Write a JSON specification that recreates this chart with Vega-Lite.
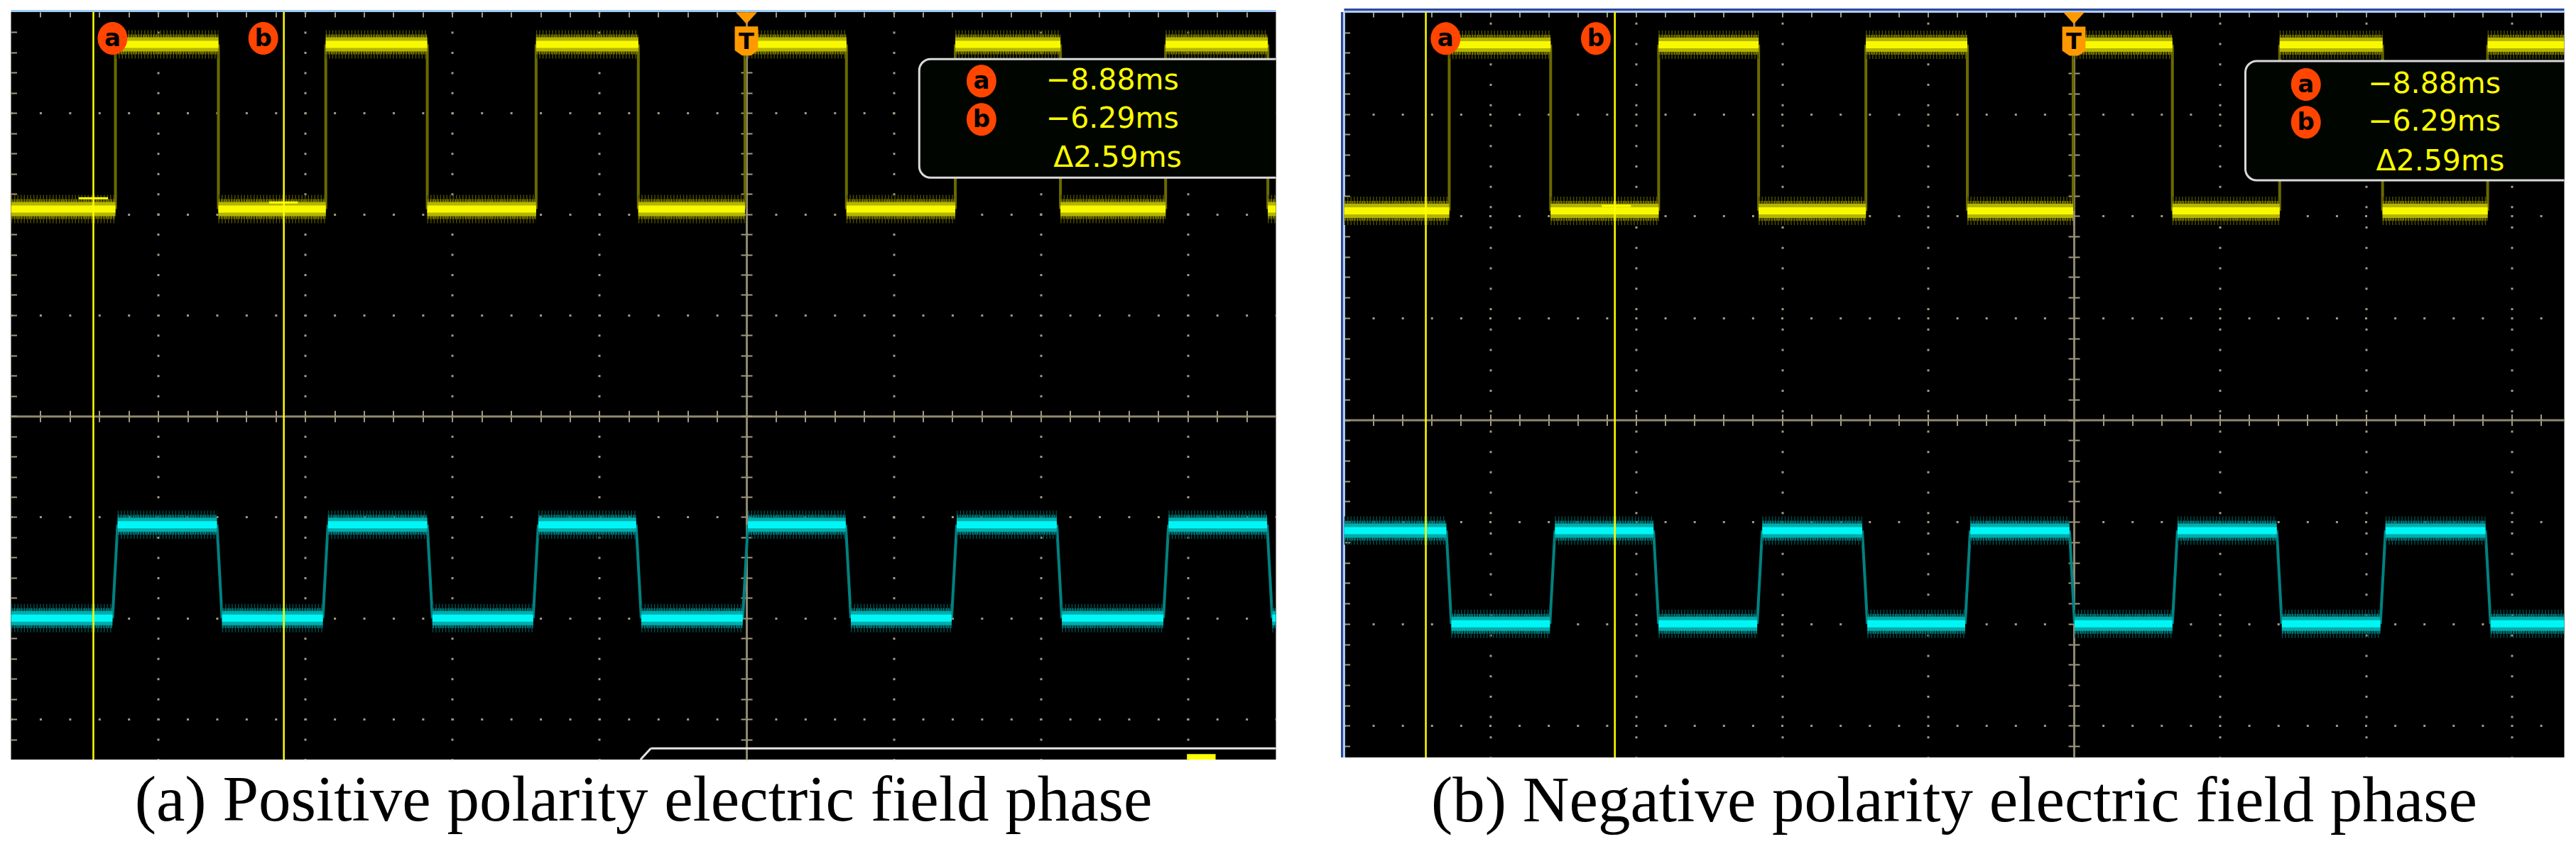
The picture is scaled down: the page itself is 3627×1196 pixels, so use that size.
{
  "$schema": "https://vega.github.io/schema/vega-lite/v6.json",
  "background": "#ffffff",
  "padding": {"left": 13.5, "top": 12, "right": 5, "bottom": 5},
  "bounds": "flush",
  "spacing": 96,
  "config": {"view": {"fill": "#000000", "stroke": null}, "axis": {"zindex": 0, "minExtent": 0, "maxExtent": 0, "labelPadding": 0, "titlePadding": 0}},
  "datasets": {
    "z": [{"z": 0}],
    "segA": [
      {"ch": "CH1", "t0": -10, "t1": -8.58, "v": 2.05, "vn": 3.68, "te": -8.58},
      {"ch": "CH1", "t0": -8.58, "t1": -7.18, "v": 3.68, "vn": 2.05, "te": -7.18},
      {"ch": "CH1", "t0": -7.18, "t1": -5.72, "v": 2.05, "vn": 3.68, "te": -5.72},
      {"ch": "CH1", "t0": -5.72, "t1": -4.34, "v": 3.68, "vn": 2.05, "te": -4.34},
      {"ch": "CH1", "t0": -4.34, "t1": -2.86, "v": 2.05, "vn": 3.68, "te": -2.86},
      {"ch": "CH1", "t0": -2.86, "t1": -1.47, "v": 3.68, "vn": 2.05, "te": -1.47},
      {"ch": "CH1", "t0": -1.47, "t1": -0.02, "v": 2.05, "vn": 3.68, "te": -0.02},
      {"ch": "CH1", "t0": -0.02, "t1": 1.36, "v": 3.68, "vn": 2.05, "te": 1.36},
      {"ch": "CH1", "t0": 1.36, "t1": 2.84, "v": 2.05, "vn": 3.68, "te": 2.84},
      {"ch": "CH1", "t0": 2.84, "t1": 4.27, "v": 3.68, "vn": 2.05, "te": 4.27},
      {"ch": "CH1", "t0": 4.27, "t1": 5.7, "v": 2.05, "vn": 3.68, "te": 5.7},
      {"ch": "CH1", "t0": 5.7, "t1": 7.09, "v": 3.68, "vn": 2.05, "te": 7.09},
      {"ch": "CH1", "t0": 7.09, "t1": 7.2, "v": 2.05, "vn": 2.05, "te": 7.2},
      {"ch": "CH2", "t0": -10, "t1": -8.62, "v": -2.0, "vn": -1.075, "te": -8.55},
      {"ch": "CH2", "t0": -8.55, "t1": -7.2, "v": -1.075, "vn": -2.0, "te": -7.13},
      {"ch": "CH2", "t0": -7.13, "t1": -5.76, "v": -2.0, "vn": -1.075, "te": -5.69},
      {"ch": "CH2", "t0": -5.69, "t1": -4.34, "v": -1.075, "vn": -2.0, "te": -4.27},
      {"ch": "CH2", "t0": -4.27, "t1": -2.9, "v": -2.0, "vn": -1.075, "te": -2.83},
      {"ch": "CH2", "t0": -2.83, "t1": -1.5, "v": -1.075, "vn": -2.0, "te": -1.43},
      {"ch": "CH2", "t0": -1.43, "t1": -0.05, "v": -2.0, "vn": -1.075, "te": 0.02},
      {"ch": "CH2", "t0": 0.02, "t1": 1.35, "v": -1.075, "vn": -2.0, "te": 1.42},
      {"ch": "CH2", "t0": 1.42, "t1": 2.79, "v": -2.0, "vn": -1.075, "te": 2.86},
      {"ch": "CH2", "t0": 2.86, "t1": 4.22, "v": -1.075, "vn": -2.0, "te": 4.29},
      {"ch": "CH2", "t0": 4.29, "t1": 5.67, "v": -2.0, "vn": -1.075, "te": 5.74},
      {"ch": "CH2", "t0": 5.74, "t1": 7.08, "v": -1.075, "vn": -2.0, "te": 7.15},
      {"ch": "CH2", "t0": 7.15, "t1": 7.2, "v": -2.0, "vn": -2.0, "te": 7.2}
    ],
    "segB": [
      {"ch": "CH1", "t0": -10, "t1": -8.56, "v": 2.05, "vn": 3.68, "te": -8.56},
      {"ch": "CH1", "t0": -8.56, "t1": -7.17, "v": 3.68, "vn": 2.05, "te": -7.17},
      {"ch": "CH1", "t0": -7.17, "t1": -5.69, "v": 2.05, "vn": 3.68, "te": -5.69},
      {"ch": "CH1", "t0": -5.69, "t1": -4.32, "v": 3.68, "vn": 2.05, "te": -4.32},
      {"ch": "CH1", "t0": -4.32, "t1": -2.85, "v": 2.05, "vn": 3.68, "te": -2.85},
      {"ch": "CH1", "t0": -2.85, "t1": -1.46, "v": 3.68, "vn": 2.05, "te": -1.46},
      {"ch": "CH1", "t0": -1.46, "t1": -0.01, "v": 2.05, "vn": 3.68, "te": -0.01},
      {"ch": "CH1", "t0": -0.01, "t1": 1.35, "v": 3.68, "vn": 2.05, "te": 1.35},
      {"ch": "CH1", "t0": 1.35, "t1": 2.82, "v": 2.05, "vn": 3.68, "te": 2.82},
      {"ch": "CH1", "t0": 2.82, "t1": 4.23, "v": 3.68, "vn": 2.05, "te": 4.23},
      {"ch": "CH1", "t0": 4.23, "t1": 5.67, "v": 2.05, "vn": 3.68, "te": 5.67},
      {"ch": "CH1", "t0": 5.67, "t1": 6.72, "v": 3.68, "vn": 3.68, "te": 6.72},
      {"ch": "CH2", "t0": -10, "t1": -8.6, "v": -1.085, "vn": -2.0, "te": -8.53},
      {"ch": "CH2", "t0": -8.53, "t1": -7.18, "v": -2.0, "vn": -1.085, "te": -7.11},
      {"ch": "CH2", "t0": -7.11, "t1": -5.76, "v": -1.085, "vn": -2.0, "te": -5.69},
      {"ch": "CH2", "t0": -5.69, "t1": -4.34, "v": -2.0, "vn": -1.085, "te": -4.27},
      {"ch": "CH2", "t0": -4.27, "t1": -2.9, "v": -1.085, "vn": -2.0, "te": -2.83},
      {"ch": "CH2", "t0": -2.83, "t1": -1.49, "v": -2.0, "vn": -1.085, "te": -1.42},
      {"ch": "CH2", "t0": -1.42, "t1": -0.06, "v": -1.085, "vn": -2.0, "te": 0.01},
      {"ch": "CH2", "t0": 0.01, "t1": 1.35, "v": -2.0, "vn": -1.085, "te": 1.42},
      {"ch": "CH2", "t0": 1.42, "t1": 2.78, "v": -1.085, "vn": -2.0, "te": 2.85},
      {"ch": "CH2", "t0": 2.85, "t1": 4.2, "v": -2.0, "vn": -1.085, "te": 4.27},
      {"ch": "CH2", "t0": 4.27, "t1": 5.64, "v": -1.085, "vn": -2.0, "te": 5.71},
      {"ch": "CH2", "t0": 5.71, "t1": 6.72, "v": -2.0, "vn": -2.0, "te": 6.72}
    ],
    "markA": [
      {"x": -8.62, "y": 3.74, "t": "a"},
      {"x": -6.57, "y": 3.74, "t": "b"},
      {"x": 3.196, "y": 3.317, "t": "a"},
      {"x": 3.196, "y": 2.937, "t": "b"}
    ],
    "markB": [
      {"x": -8.61, "y": 3.74, "t": "a"},
      {"x": -6.55, "y": 3.74, "t": "b"},
      {"x": 3.18, "y": 3.29, "t": "a"},
      {"x": 3.18, "y": 2.92, "t": "b"}
    ],
    "readA": [
      {"x": 5.88, "y": 3.317, "t": "−8.88ms"},
      {"x": 5.88, "y": 2.937, "t": "−6.29ms"},
      {"x": 5.92, "y": 2.551, "t": "Δ2.59ms"}
    ],
    "readB": [
      {"x": 5.85, "y": 3.29, "t": "−8.88ms"},
      {"x": 5.85, "y": 2.92, "t": "−6.29ms"},
      {"x": 5.9, "y": 2.53, "t": "Δ2.59ms"}
    ],
    "cur": [{"x": -8.88}, {"x": -6.29}],
    "lvlA": [{"x0": -9.08, "x1": -8.68, "y": 2.157}, {"x0": -6.49, "x1": -6.1, "y": 2.115}],
    "lvlB": [{"x0": -6.47, "x1": -6.07, "y": 2.1}],
    "boxA": [{"x0": 2.35, "x1": 9, "y0": 3.535, "y1": 2.36}],
    "boxB": [{"x0": 2.35, "x1": 9, "y0": 3.52, "y1": 2.35}],
    "trig": [{"x": 0, "y1": 3.94, "y2": 3.714}],
    "botA": [
      {"x0": -1.3, "x1": 9, "y0": -3.29, "y1": -3.29},
      {"x0": -1.44, "x1": -1.3, "y0": -3.4, "y1": -3.29}
    ],
    "ylwA": [{"x0": 5.99, "x1": 6.38, "y0": -3.345, "y1": -3.4}]
  },
  "hconcat": [
    {
      "width": 1781,
      "height": 1053,
      "title": {"text": "(a) Positive polarity electric field phase", "orient": "bottom", "anchor": "middle", "baseline": "alphabetic", "offset": 85, "font": "Liberation Serif", "fontSize": 91, "fontWeight": "normal", "color": "#000000"},
      "resolve": {"axis": {"x": "independent", "y": "independent"}, "scale": {"color": "independent"}},
      "layer": [
        {
          "data": {"name": "z"},
          "mark": {"type": "point", "opacity": 0},
          "encoding": {
            "x": {"field": "z", "type": "quantitative", "scale": {"domain": [-10, 7.2], "nice": false, "zero": false},
              "axis": {"orient": "bottom", "values": [-8, -6, -4, -2, 2, 4, 6], "grid": true, "gridColor": "#a39a80", "gridWidth": 3, "gridOpacity": 1, "gridDash": [3, 25.46], "gridDashOffset": 1.5, "domain": false, "ticks": false, "labels": false, "title": null, "zindex": 0}},
            "y": {"field": "z", "type": "quantitative", "scale": {"domain": [-3.4, 4], "nice": false, "zero": false},
              "axis": {"orient": "left", "values": [-3, -2, -1, 1, 2, 3], "grid": true, "gridColor": "#a39a80", "gridWidth": 3, "gridOpacity": 1, "gridDash": [3, 38.42], "gridDashOffset": 1.5, "domain": false, "ticks": false, "labels": false, "title": null, "zindex": 0}}
          }
        },
        {
          "data": {"name": "z"},
          "mark": {"type": "point", "opacity": 0},
          "encoding": {
            "x": {"field": "z", "type": "quantitative", "scale": {"domain": [-10, 7.2], "nice": false, "zero": false},
              "axis": {"orient": "top", "values": [-9.6,-9.2,-8.8,-8.4,-8,-7.6,-7.2,-6.8,-6.4,-6,-5.6,-5.2,-4.8,-4.4,-4,-3.6,-3.2,-2.8,-2.4,-2,-1.6,-1.2,-0.8,-0.4,0,0.4,0.8,1.2,1.6,2,2.4,2.8,3.2,3.6,4,4.4,4.8,5.2,5.6,6,6.4,6.8], "grid": false, "domain": false, "ticks": true, "tickSize": -7, "tickWidth": 2, "tickColor": "#a39a80", "labels": false, "title": null, "zindex": 0}},
            "y": {"field": "z", "type": "quantitative", "scale": {"domain": [-3.4, 4], "nice": false, "zero": false},
              "axis": {"orient": "left", "values": [-3.2,-3,-2.8,-2.6,-2.4,-2.2,-2,-1.8,-1.6,-1.4,-1.2,-1,-0.8,-0.6,-0.4,-0.2,0,0.2,0.4,0.6,0.8,1,1.2,1.4,1.6,1.8,2,2.2,2.4,2.6,2.8,3,3.2,3.4,3.6,3.8], "grid": false, "domain": false, "ticks": true, "tickSize": -8, "tickWidth": 2, "tickColor": "#a39a80", "labels": false, "title": null, "zindex": 0}}
          }
        },
        {
          "data": {"name": "z"},
          "mark": {"type": "point", "opacity": 0},
          "encoding": {
            "x": {"field": "z", "type": "quantitative", "scale": {"domain": [-10, 7.2], "nice": false, "zero": false},
              "axis": {"orient": "bottom", "offset": -483.8, "values": [-9.6,-9.2,-8.8,-8.4,-8,-7.6,-7.2,-6.8,-6.4,-6,-5.6,-5.2,-4.8,-4.4,-4,-3.6,-3.2,-2.8,-2.4,-2,-1.6,-1.2,-0.8,-0.4,0,0.4,0.8,1.2,1.6,2,2.4,2.8,3.2,3.6,4,4.4,4.8,5.2,5.6,6,6.4,6.8], "grid": false, "domain": true, "domainColor": "#8f8770", "domainWidth": 3, "ticks": true, "tickSize": 8, "tickWidth": 2, "tickColor": "#a39a80", "labels": false, "title": null, "zindex": 0}},
            "y": {"field": "z", "type": "quantitative", "scale": {"domain": [-3.4, 4], "nice": false, "zero": false},
              "axis": {"orient": "left", "offset": -1035.5, "values": [-3.2,-3,-2.8,-2.6,-2.4,-2.2,-2,-1.8,-1.6,-1.4,-1.2,-1,-0.8,-0.6,-0.4,-0.2,0,0.2,0.4,0.6,0.8,1,1.2,1.4,1.6,1.8,2,2.2,2.4,2.6,2.8,3,3.2,3.4,3.6,3.8], "grid": false, "domain": true, "domainColor": "#8f8770", "domainWidth": 3, "ticks": true, "tickSize": 8, "tickWidth": 2, "tickColor": "#a39a80", "labels": false, "title": null, "zindex": 0}}
          }
        },
        {
          "data": {"name": "z"},
          "mark": {"type": "point", "opacity": 0},
          "encoding": {
            "x": {"field": "z", "type": "quantitative", "scale": {"domain": [-10, 7.2], "nice": false, "zero": false},
              "axis": {"orient": "top", "offset": -569.2, "values": [-9.6,-9.2,-8.8,-8.4,-8,-7.6,-7.2,-6.8,-6.4,-6,-5.6,-5.2,-4.8,-4.4,-4,-3.6,-3.2,-2.8,-2.4,-2,-1.6,-1.2,-0.8,-0.4,0,0.4,0.8,1.2,1.6,2,2.4,2.8,3.2,3.6,4,4.4,4.8,5.2,5.6,6,6.4,6.8], "grid": false, "domain": false, "ticks": true, "tickSize": 8, "tickWidth": 2, "tickColor": "#a39a80", "labels": false, "title": null, "zindex": 0}},
            "y": {"field": "z", "type": "quantitative", "scale": {"domain": [-3.4, 4], "nice": false, "zero": false},
              "axis": {"orient": "right", "offset": -745.5, "values": [-3.2,-3,-2.8,-2.6,-2.4,-2.2,-2,-1.8,-1.6,-1.4,-1.2,-1,-0.8,-0.6,-0.4,-0.2,0,0.2,0.4,0.6,0.8,1,1.2,1.4,1.6,1.8,2,2.2,2.4,2.6,2.8,3,3.2,3.4,3.6,3.8], "grid": false, "domain": false, "ticks": true, "tickSize": 8, "tickWidth": 2, "tickColor": "#a39a80", "labels": false, "title": null, "zindex": 0}}
          }
        },
        {
          "data": {"name": "z"},
          "mark": {"type": "rule", "color": "#9fcaf3", "strokeWidth": 3, "yOffset": -1.5},
          "encoding": {"y": {"datum": 4, "type": "quantitative", "scale": {"domain": [-3.4, 4], "nice": false, "zero": false}, "axis": null}}
        },
        {
          "data": {"name": "segA"},
          "mark": {"type": "rule", "strokeWidth": 4, "clip": true},
          "encoding": {
            "x": {"field": "t1", "type": "quantitative", "scale": {"domain": [-10, 7.2], "nice": false, "zero": false}, "axis": null},
            "x2": {"field": "te"},
            "y": {"field": "v", "type": "quantitative", "scale": {"domain": [-3.4, 4], "nice": false, "zero": false}, "axis": null},
            "y2": {"field": "vn"},
            "color": {"field": "ch", "type": "nominal", "scale": {"domain": ["CH1", "CH2"], "range": ["#6a6a00", "#008282"]}, "legend": null}
          }
        },
        {
          "data": {"name": "segA"},
          "mark": {"type": "rule", "strokeWidth": 40, "strokeDash": [1.5, 3], "strokeCap": "butt", "clip": true},
          "encoding": {
            "x": {"field": "t0", "type": "quantitative", "scale": {"domain": [-10, 7.2], "nice": false, "zero": false}, "axis": null},
            "x2": {"field": "t1"},
            "y": {"field": "v", "type": "quantitative", "scale": {"domain": [-3.4, 4], "nice": false, "zero": false}, "axis": null},
            "color": {"field": "ch", "type": "nominal", "scale": {"domain": ["CH1", "CH2"], "range": ["#4a4a00", "#004a4a"]}, "legend": null}
          }
        },
        {
          "data": {"name": "segA"},
          "mark": {"type": "rule", "strokeWidth": 28, "strokeDash": [2.5, 1], "strokeCap": "butt", "clip": true},
          "encoding": {
            "x": {"field": "t0", "type": "quantitative", "scale": {"domain": [-10, 7.2], "nice": false, "zero": false}, "axis": null},
            "x2": {"field": "t1"},
            "y": {"field": "v", "type": "quantitative", "scale": {"domain": [-3.4, 4], "nice": false, "zero": false}, "axis": null},
            "color": {"field": "ch", "type": "nominal", "scale": {"domain": ["CH1", "CH2"], "range": ["#707000", "#007272"]}, "legend": null}
          }
        },
        {
          "data": {"name": "segA"},
          "mark": {"type": "rule", "strokeWidth": 20, "strokeCap": "butt", "clip": true},
          "encoding": {
            "x": {"field": "t0", "type": "quantitative", "scale": {"domain": [-10, 7.2], "nice": false, "zero": false}, "axis": null},
            "x2": {"field": "t1"},
            "y": {"field": "v", "type": "quantitative", "scale": {"domain": [-3.4, 4], "nice": false, "zero": false}, "axis": null},
            "color": {"field": "ch", "type": "nominal", "scale": {"domain": ["CH1", "CH2"], "range": ["#b4b400", "#00acac"]}, "legend": null}
          }
        },
        {
          "data": {"name": "segA"},
          "mark": {"type": "rule", "strokeWidth": 10, "strokeCap": "butt", "clip": true},
          "encoding": {
            "x": {"field": "t0", "type": "quantitative", "scale": {"domain": [-10, 7.2], "nice": false, "zero": false}, "axis": null},
            "x2": {"field": "t1"},
            "y": {"field": "v", "type": "quantitative", "scale": {"domain": [-3.4, 4], "nice": false, "zero": false}, "axis": null},
            "color": {"field": "ch", "type": "nominal", "scale": {"domain": ["CH1", "CH2"], "range": ["#f8f800", "#00f6f6"]}, "legend": null}
          }
        },
        {
          "data": {"name": "lvlA"},
          "mark": {"type": "rule", "color": "#ffff00", "strokeWidth": 3},
          "encoding": {
            "x": {"field": "x0", "type": "quantitative", "scale": {"domain": [-10, 7.2], "nice": false, "zero": false}, "axis": null},
            "x2": {"field": "x1"},
            "y": {"field": "y", "type": "quantitative", "scale": {"domain": [-3.4, 4], "nice": false, "zero": false}, "axis": null}
          }
        },
        {
          "data": {"name": "cur"},
          "mark": {"type": "rule", "color": "#ffff00", "strokeWidth": 2.5},
          "encoding": {
            "x": {"field": "x", "type": "quantitative", "scale": {"domain": [-10, 7.2], "nice": false, "zero": false}, "axis": null}
          }
        },
        {
          "data": {"name": "boxA"},
          "mark": {"type": "rect", "fill": "#000500", "stroke": "#d9d9d9", "strokeWidth": 3, "cornerRadius": 16, "clip": true},
          "encoding": {
            "x": {"field": "x0", "type": "quantitative", "scale": {"domain": [-10, 7.2], "nice": false, "zero": false}, "axis": null},
            "x2": {"field": "x1"},
            "y": {"field": "y0", "type": "quantitative", "scale": {"domain": [-3.4, 4], "nice": false, "zero": false}, "axis": null},
            "y2": {"field": "y1"}
          }
        },
        {
          "data": {"name": "markA"},
          "mark": {"type": "point", "shape": "M0,-1A0.91,1,0,1,1,0,1A0.91,1,0,1,1,0,-1Z", "filled": true, "size": 2116, "color": "#ff4500", "opacity": 1},
          "encoding": {
            "x": {"field": "x", "type": "quantitative", "scale": {"domain": [-10, 7.2], "nice": false, "zero": false}, "axis": null},
            "y": {"field": "y", "type": "quantitative", "scale": {"domain": [-3.4, 4], "nice": false, "zero": false}, "axis": null}
          }
        },
        {
          "data": {"name": "markA"},
          "mark": {"type": "text", "font": "DejaVu Sans", "fontWeight": "bold", "fontSize": 34, "color": "#000000", "align": "center", "baseline": "middle", "dy": 1},
          "encoding": {
            "x": {"field": "x", "type": "quantitative", "scale": {"domain": [-10, 7.2], "nice": false, "zero": false}, "axis": null},
            "y": {"field": "y", "type": "quantitative", "scale": {"domain": [-3.4, 4], "nice": false, "zero": false}, "axis": null},
            "text": {"field": "t"}
          }
        },
        {
          "data": {"name": "readA"},
          "mark": {"type": "text", "font": "DejaVu Sans", "fontWeight": "normal", "fontSize": 41, "color": "#ffff00", "align": "right", "baseline": "middle"},
          "encoding": {
            "x": {"field": "x", "type": "quantitative", "scale": {"domain": [-10, 7.2], "nice": false, "zero": false}, "axis": null},
            "y": {"field": "y", "type": "quantitative", "scale": {"domain": [-3.4, 4], "nice": false, "zero": false}, "axis": null},
            "text": {"field": "t"}
          }
        },
        {
          "data": {"name": "trig"},
          "mark": {"type": "point", "shape": "M-1,-0.55L1,-0.55L0,0.55Z", "filled": true, "size": 900, "color": "#ff9900", "opacity": 1},
          "encoding": {
            "x": {"field": "x", "type": "quantitative", "scale": {"domain": [-10, 7.2], "nice": false, "zero": false}, "axis": null},
            "y": {"field": "y1", "type": "quantitative", "scale": {"domain": [-3.4, 4], "nice": false, "zero": false}, "axis": null}
          }
        },
        {
          "data": {"name": "trig"},
          "mark": {"type": "point", "shape": "M-0.8,-1L0.8,-1L0.8,0.65L0.3,1L-0.3,1L-0.8,0.65Z", "filled": true, "size": 1681, "color": "#ff9900", "opacity": 1},
          "encoding": {
            "x": {"field": "x", "type": "quantitative", "scale": {"domain": [-10, 7.2], "nice": false, "zero": false}, "axis": null},
            "y": {"field": "y2", "type": "quantitative", "scale": {"domain": [-3.4, 4], "nice": false, "zero": false}, "axis": null}
          }
        },
        {
          "data": {"name": "trig"},
          "mark": {"type": "text", "text": "T", "font": "DejaVu Sans", "fontWeight": "bold", "fontSize": 32, "color": "#000000", "align": "center", "baseline": "middle", "dy": 1},
          "encoding": {
            "x": {"field": "x", "type": "quantitative", "scale": {"domain": [-10, 7.2], "nice": false, "zero": false}, "axis": null},
            "y": {"field": "y2", "type": "quantitative", "scale": {"domain": [-3.4, 4], "nice": false, "zero": false}, "axis": null}
          }
        },
        {
          "data": {"name": "botA"},
          "mark": {"type": "rule", "color": "#e4e4e4", "strokeWidth": 3, "clip": true},
          "encoding": {
            "x": {"field": "x0", "type": "quantitative", "scale": {"domain": [-10, 7.2], "nice": false, "zero": false}, "axis": null},
            "x2": {"field": "x1"},
            "y": {"field": "y0", "type": "quantitative", "scale": {"domain": [-3.4, 4], "nice": false, "zero": false}, "axis": null},
            "y2": {"field": "y1"}
          }
        },
        {
          "data": {"name": "ylwA"},
          "mark": {"type": "rect", "color": "#ffff00"},
          "encoding": {
            "x": {"field": "x0", "type": "quantitative", "scale": {"domain": [-10, 7.2], "nice": false, "zero": false}, "axis": null},
            "x2": {"field": "x1"},
            "y": {"field": "y0", "type": "quantitative", "scale": {"domain": [-3.4, 4], "nice": false, "zero": false}, "axis": null},
            "y2": {"field": "y1"}
          }
        }
      ]
    },
    {
      "width": 1718,
      "height": 1050,
      "title": {"text": "(b) Negative polarity electric field phase", "orient": "bottom", "anchor": "middle", "baseline": "alphabetic", "offset": 88, "font": "Liberation Serif", "fontSize": 91, "fontWeight": "normal", "color": "#000000"},
      "resolve": {"axis": {"x": "independent", "y": "independent"}, "scale": {"color": "independent"}},
      "layer": [
        {
          "data": {"name": "z"},
          "mark": {"type": "point", "opacity": 0},
          "encoding": {
            "x": {"field": "z", "type": "quantitative", "scale": {"domain": [-10, 6.72], "nice": false, "zero": false},
              "axis": {"orient": "bottom", "values": [-8, -6, -4, -2, 2, 4, 6], "grid": true, "gridColor": "#a39a80", "gridWidth": 3, "gridOpacity": 1, "gridDash": [3, 25.73], "gridDashOffset": 14.43, "domain": false, "ticks": false, "labels": false, "title": null, "zindex": 0}},
            "y": {"field": "z", "type": "quantitative", "scale": {"domain": [-3.31, 4], "nice": false, "zero": false},
              "axis": {"orient": "left", "values": [-3, -2, -1, 1, 2, 3], "grid": true, "gridColor": "#a39a80", "gridWidth": 3, "gridOpacity": 1, "gridDash": [3, 38.1], "gridDashOffset": 1.5, "domain": false, "ticks": false, "labels": false, "title": null, "zindex": 0}}
          }
        },
        {
          "data": {"name": "z"},
          "mark": {"type": "point", "opacity": 0},
          "encoding": {
            "x": {"field": "z", "type": "quantitative", "scale": {"domain": [-10, 6.72], "nice": false, "zero": false},
              "axis": {"orient": "top", "values": [-9.6,-9.2,-8.8,-8.4,-8,-7.6,-7.2,-6.8,-6.4,-6,-5.6,-5.2,-4.8,-4.4,-4,-3.6,-3.2,-2.8,-2.4,-2,-1.6,-1.2,-0.8,-0.4,0,0.4,0.8,1.2,1.6,2,2.4,2.8,3.2,3.6,4,4.4,4.8,5.2,5.6,6,6.4], "grid": false, "domain": false, "ticks": true, "tickSize": -7, "tickWidth": 2, "tickColor": "#a39a80", "labels": false, "title": null, "zindex": 0}},
            "y": {"field": "z", "type": "quantitative", "scale": {"domain": [-3.31, 4], "nice": false, "zero": false},
              "axis": {"orient": "left", "values": [-3.2,-3,-2.8,-2.6,-2.4,-2.2,-2,-1.8,-1.6,-1.4,-1.2,-1,-0.8,-0.6,-0.4,-0.2,0,0.2,0.4,0.6,0.8,1,1.2,1.4,1.6,1.8,2,2.2,2.4,2.6,2.8,3,3.2,3.4,3.6,3.8], "grid": false, "domain": false, "ticks": true, "tickSize": -8, "tickWidth": 2, "tickColor": "#a39a80", "labels": false, "title": null, "zindex": 0}}
          }
        },
        {
          "data": {"name": "z"},
          "mark": {"type": "point", "opacity": 0},
          "encoding": {
            "x": {"field": "z", "type": "quantitative", "scale": {"domain": [-10, 6.72], "nice": false, "zero": false},
              "axis": {"orient": "bottom", "offset": -475.4, "values": [-9.6,-9.2,-8.8,-8.4,-8,-7.6,-7.2,-6.8,-6.4,-6,-5.6,-5.2,-4.8,-4.4,-4,-3.6,-3.2,-2.8,-2.4,-2,-1.6,-1.2,-0.8,-0.4,0,0.4,0.8,1.2,1.6,2,2.4,2.8,3.2,3.6,4,4.4,4.8,5.2,5.6,6,6.4], "grid": false, "domain": true, "domainColor": "#8f8770", "domainWidth": 3, "ticks": true, "tickSize": 8, "tickWidth": 2, "tickColor": "#a39a80", "labels": false, "title": null, "zindex": 0}},
            "y": {"field": "z", "type": "quantitative", "scale": {"domain": [-3.31, 4], "nice": false, "zero": false},
              "axis": {"orient": "left", "offset": -1027.5, "values": [-3.2,-3,-2.8,-2.6,-2.4,-2.2,-2,-1.8,-1.6,-1.4,-1.2,-1,-0.8,-0.6,-0.4,-0.2,0,0.2,0.4,0.6,0.8,1,1.2,1.4,1.6,1.8,2,2.2,2.4,2.6,2.8,3,3.2,3.4,3.6,3.8], "grid": false, "domain": true, "domainColor": "#8f8770", "domainWidth": 3, "ticks": true, "tickSize": 8, "tickWidth": 2, "tickColor": "#a39a80", "labels": false, "title": null, "zindex": 0}}
          }
        },
        {
          "data": {"name": "z"},
          "mark": {"type": "point", "opacity": 0},
          "encoding": {
            "x": {"field": "z", "type": "quantitative", "scale": {"domain": [-10, 6.72], "nice": false, "zero": false},
              "axis": {"orient": "top", "offset": -574.6, "values": [-9.6,-9.2,-8.8,-8.4,-8,-7.6,-7.2,-6.8,-6.4,-6,-5.6,-5.2,-4.8,-4.4,-4,-3.6,-3.2,-2.8,-2.4,-2,-1.6,-1.2,-0.8,-0.4,0,0.4,0.8,1.2,1.6,2,2.4,2.8,3.2,3.6,4,4.4,4.8,5.2,5.6,6,6.4], "grid": false, "domain": false, "ticks": true, "tickSize": 8, "tickWidth": 2, "tickColor": "#a39a80", "labels": false, "title": null, "zindex": 0}},
            "y": {"field": "z", "type": "quantitative", "scale": {"domain": [-3.31, 4], "nice": false, "zero": false},
              "axis": {"orient": "right", "offset": -690.5, "values": [-3.2,-3,-2.8,-2.6,-2.4,-2.2,-2,-1.8,-1.6,-1.4,-1.2,-1,-0.8,-0.6,-0.4,-0.2,0,0.2,0.4,0.6,0.8,1,1.2,1.4,1.6,1.8,2,2.2,2.4,2.6,2.8,3,3.2,3.4,3.6,3.8], "grid": false, "domain": false, "ticks": true, "tickSize": 8, "tickWidth": 2, "tickColor": "#a39a80", "labels": false, "title": null, "zindex": 0}}
          }
        },
        {
          "data": {"name": "z"},
          "mark": {"type": "rule", "color": "#a6cdf2", "strokeWidth": 3, "yOffset": -0.5},
          "encoding": {"y": {"datum": 4, "type": "quantitative", "scale": {"domain": [-3.31, 4], "nice": false, "zero": false}, "axis": null}}
        },
        {
          "data": {"name": "z"},
          "mark": {"type": "rule", "color": "#33479a", "strokeWidth": 3, "yOffset": -3.5},
          "encoding": {"y": {"datum": 4, "type": "quantitative", "scale": {"domain": [-3.31, 4], "nice": false, "zero": false}, "axis": null}}
        },
        {
          "data": {"name": "z"},
          "mark": {"type": "rule", "color": "#a6cdf2", "strokeWidth": 3, "xOffset": 0},
          "encoding": {"x": {"datum": -10, "type": "quantitative", "scale": {"domain": [-10, 6.72], "nice": false, "zero": false}, "axis": null}}
        },
        {
          "data": {"name": "z"},
          "mark": {"type": "rule", "color": "#33479a", "strokeWidth": 3, "xOffset": -3},
          "encoding": {"x": {"datum": -10, "type": "quantitative", "scale": {"domain": [-10, 6.72], "nice": false, "zero": false}, "axis": null}}
        },
        {
          "data": {"name": "segB"},
          "mark": {"type": "rule", "strokeWidth": 4, "clip": true},
          "encoding": {
            "x": {"field": "t1", "type": "quantitative", "scale": {"domain": [-10, 6.72], "nice": false, "zero": false}, "axis": null},
            "x2": {"field": "te"},
            "y": {"field": "v", "type": "quantitative", "scale": {"domain": [-3.31, 4], "nice": false, "zero": false}, "axis": null},
            "y2": {"field": "vn"},
            "color": {"field": "ch", "type": "nominal", "scale": {"domain": ["CH1", "CH2"], "range": ["#6a6a00", "#008282"]}, "legend": null}
          }
        },
        {
          "data": {"name": "segB"},
          "mark": {"type": "rule", "strokeWidth": 40, "strokeDash": [1.5, 3], "strokeCap": "butt", "clip": true},
          "encoding": {
            "x": {"field": "t0", "type": "quantitative", "scale": {"domain": [-10, 6.72], "nice": false, "zero": false}, "axis": null},
            "x2": {"field": "t1"},
            "y": {"field": "v", "type": "quantitative", "scale": {"domain": [-3.31, 4], "nice": false, "zero": false}, "axis": null},
            "color": {"field": "ch", "type": "nominal", "scale": {"domain": ["CH1", "CH2"], "range": ["#4a4a00", "#004a4a"]}, "legend": null}
          }
        },
        {
          "data": {"name": "segB"},
          "mark": {"type": "rule", "strokeWidth": 28, "strokeDash": [2.5, 1], "strokeCap": "butt", "clip": true},
          "encoding": {
            "x": {"field": "t0", "type": "quantitative", "scale": {"domain": [-10, 6.72], "nice": false, "zero": false}, "axis": null},
            "x2": {"field": "t1"},
            "y": {"field": "v", "type": "quantitative", "scale": {"domain": [-3.31, 4], "nice": false, "zero": false}, "axis": null},
            "color": {"field": "ch", "type": "nominal", "scale": {"domain": ["CH1", "CH2"], "range": ["#707000", "#007272"]}, "legend": null}
          }
        },
        {
          "data": {"name": "segB"},
          "mark": {"type": "rule", "strokeWidth": 20, "strokeCap": "butt", "clip": true},
          "encoding": {
            "x": {"field": "t0", "type": "quantitative", "scale": {"domain": [-10, 6.72], "nice": false, "zero": false}, "axis": null},
            "x2": {"field": "t1"},
            "y": {"field": "v", "type": "quantitative", "scale": {"domain": [-3.31, 4], "nice": false, "zero": false}, "axis": null},
            "color": {"field": "ch", "type": "nominal", "scale": {"domain": ["CH1", "CH2"], "range": ["#b4b400", "#00acac"]}, "legend": null}
          }
        },
        {
          "data": {"name": "segB"},
          "mark": {"type": "rule", "strokeWidth": 10, "strokeCap": "butt", "clip": true},
          "encoding": {
            "x": {"field": "t0", "type": "quantitative", "scale": {"domain": [-10, 6.72], "nice": false, "zero": false}, "axis": null},
            "x2": {"field": "t1"},
            "y": {"field": "v", "type": "quantitative", "scale": {"domain": [-3.31, 4], "nice": false, "zero": false}, "axis": null},
            "color": {"field": "ch", "type": "nominal", "scale": {"domain": ["CH1", "CH2"], "range": ["#f8f800", "#00f6f6"]}, "legend": null}
          }
        },
        {
          "data": {"name": "lvlB"},
          "mark": {"type": "rule", "color": "#ffff00", "strokeWidth": 3},
          "encoding": {
            "x": {"field": "x0", "type": "quantitative", "scale": {"domain": [-10, 6.72], "nice": false, "zero": false}, "axis": null},
            "x2": {"field": "x1"},
            "y": {"field": "y", "type": "quantitative", "scale": {"domain": [-3.31, 4], "nice": false, "zero": false}, "axis": null}
          }
        },
        {
          "data": {"name": "cur"},
          "mark": {"type": "rule", "color": "#ffff00", "strokeWidth": 2.5},
          "encoding": {
            "x": {"field": "x", "type": "quantitative", "scale": {"domain": [-10, 6.72], "nice": false, "zero": false}, "axis": null}
          }
        },
        {
          "data": {"name": "boxB"},
          "mark": {"type": "rect", "fill": "#000500", "stroke": "#d9d9d9", "strokeWidth": 3, "cornerRadius": 16, "clip": true},
          "encoding": {
            "x": {"field": "x0", "type": "quantitative", "scale": {"domain": [-10, 6.72], "nice": false, "zero": false}, "axis": null},
            "x2": {"field": "x1"},
            "y": {"field": "y0", "type": "quantitative", "scale": {"domain": [-3.31, 4], "nice": false, "zero": false}, "axis": null},
            "y2": {"field": "y1"}
          }
        },
        {
          "data": {"name": "markB"},
          "mark": {"type": "point", "shape": "M0,-1A0.91,1,0,1,1,0,1A0.91,1,0,1,1,0,-1Z", "filled": true, "size": 2116, "color": "#ff4500", "opacity": 1},
          "encoding": {
            "x": {"field": "x", "type": "quantitative", "scale": {"domain": [-10, 6.72], "nice": false, "zero": false}, "axis": null},
            "y": {"field": "y", "type": "quantitative", "scale": {"domain": [-3.31, 4], "nice": false, "zero": false}, "axis": null}
          }
        },
        {
          "data": {"name": "markB"},
          "mark": {"type": "text", "font": "DejaVu Sans", "fontWeight": "bold", "fontSize": 34, "color": "#000000", "align": "center", "baseline": "middle", "dy": 1},
          "encoding": {
            "x": {"field": "x", "type": "quantitative", "scale": {"domain": [-10, 6.72], "nice": false, "zero": false}, "axis": null},
            "y": {"field": "y", "type": "quantitative", "scale": {"domain": [-3.31, 4], "nice": false, "zero": false}, "axis": null},
            "text": {"field": "t"}
          }
        },
        {
          "data": {"name": "readB"},
          "mark": {"type": "text", "font": "DejaVu Sans", "fontWeight": "normal", "fontSize": 41, "color": "#ffff00", "align": "right", "baseline": "middle"},
          "encoding": {
            "x": {"field": "x", "type": "quantitative", "scale": {"domain": [-10, 6.72], "nice": false, "zero": false}, "axis": null},
            "y": {"field": "y", "type": "quantitative", "scale": {"domain": [-3.31, 4], "nice": false, "zero": false}, "axis": null},
            "text": {"field": "t"}
          }
        },
        {
          "data": {"name": "trig"},
          "mark": {"type": "point", "shape": "M-1,-0.55L1,-0.55L0,0.55Z", "filled": true, "size": 900, "color": "#ff9900", "opacity": 1},
          "encoding": {
            "x": {"field": "x", "type": "quantitative", "scale": {"domain": [-10, 6.72], "nice": false, "zero": false}, "axis": null},
            "y": {"field": "y1", "type": "quantitative", "scale": {"domain": [-3.31, 4], "nice": false, "zero": false}, "axis": null}
          }
        },
        {
          "data": {"name": "trig"},
          "mark": {"type": "point", "shape": "M-0.8,-1L0.8,-1L0.8,0.65L0.3,1L-0.3,1L-0.8,0.65Z", "filled": true, "size": 1681, "color": "#ff9900", "opacity": 1},
          "encoding": {
            "x": {"field": "x", "type": "quantitative", "scale": {"domain": [-10, 6.72], "nice": false, "zero": false}, "axis": null},
            "y": {"field": "y2", "type": "quantitative", "scale": {"domain": [-3.31, 4], "nice": false, "zero": false}, "axis": null}
          }
        },
        {
          "data": {"name": "trig"},
          "mark": {"type": "text", "text": "T", "font": "DejaVu Sans", "fontWeight": "bold", "fontSize": 32, "color": "#000000", "align": "center", "baseline": "middle", "dy": 1},
          "encoding": {
            "x": {"field": "x", "type": "quantitative", "scale": {"domain": [-10, 6.72], "nice": false, "zero": false}, "axis": null},
            "y": {"field": "y2", "type": "quantitative", "scale": {"domain": [-3.31, 4], "nice": false, "zero": false}, "axis": null}
          }
        }
      ]
    }
  ]
}
